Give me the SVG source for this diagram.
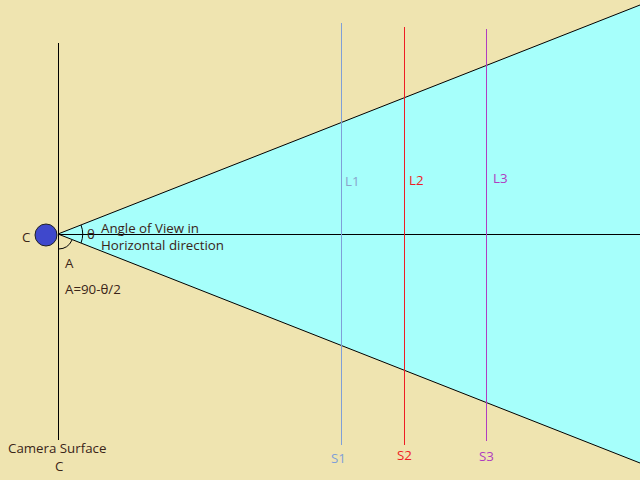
<svg xmlns="http://www.w3.org/2000/svg" width="640" height="480" viewBox="0 0 640 480">
<style>
text{font-family:"Open Sans","Liberation Sans",sans-serif;font-size:13.3px;fill:#3a2418}
.ln{stroke:#000;stroke-width:1;fill:none}
</style>
<rect width="640" height="480" fill="#efe4b0"/>
<g id="fov">
<polygon points="58,234 640,5 640,463" fill="#a6fffb"/>
<line class="ln" x1="58" y1="234" x2="640" y2="5"/>
<line class="ln" x1="58" y1="234" x2="640" y2="463"/>
<line class="ln" x1="58" y1="234.5" x2="640" y2="234.5"/>
<path class="ln" d="M81,225 A25,25 0 0 1 81,243"/>
<path class="ln" d="M58.5,249 A15,15 0 0 0 72,240"/>
</g>
<g id="camera-surface">
<line class="ln" x1="58.5" y1="43" x2="58.5" y2="440"/>
<text x="8" y="453">Camera Surface</text>
<text x="55" y="471">C</text>
</g>
<g id="camera">
<circle cx="46" cy="235" r="11" fill="#3f48cc" stroke="#222" stroke-width="1"/>
<text x="22" y="242">C</text>
</g>
<g id="labels">
<text x="87" y="239">θ</text>
<text x="101" y="233">Angle of View in</text>
<text x="101" y="250">Horizontal direction</text>
<text x="65" y="268">A</text>
<text x="65" y="294">A=90-θ/2</text>
</g>
<g id="L1">
<line x1="341.5" y1="23" x2="341.5" y2="445" stroke="#7f9fd8"/>
<text x="345" y="186" style="fill:#8aa4cc">L1</text>
<text x="331" y="463" style="fill:#7f9fd8">S1</text>
</g>
<g id="L2">
<line x1="404.5" y1="27" x2="404.5" y2="445" stroke="#ee1c24"/>
<text x="409" y="185" style="fill:#ee1c24">L2</text>
<text x="397" y="460" style="fill:#ee1c24">S2</text>
</g>
<g id="L3">
<line x1="486.5" y1="29" x2="486.5" y2="441" stroke="#b03cc0"/>
<text x="493" y="183" style="fill:#b03cc0">L3</text>
<text x="479" y="461" style="fill:#b03cc0">S3</text>
</g>
</svg>
